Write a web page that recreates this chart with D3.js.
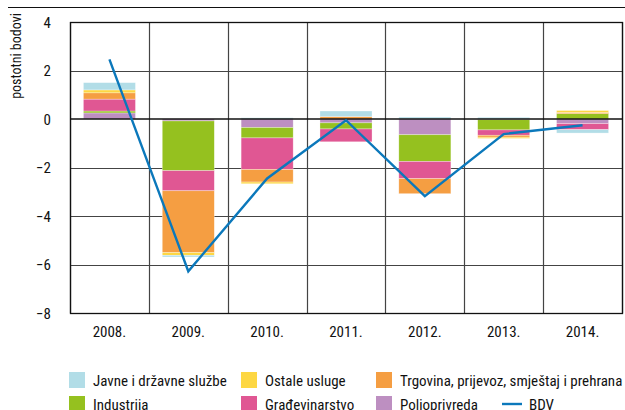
<!DOCTYPE html>
<html>
<head>
<meta charset="utf-8">
<script src="https://cdn.jsdelivr.net/npm/d3@7"></script>
<style>
  body { margin: 0; background: #fff; }
  text { font-family: "Liberation Sans Narrow", "Arial Narrow", "Roboto Condensed", sans-serif; fill: #111; }
</style>
</head>
<body>
<div id="canvas"></div>
<script>
// chart data
const years = ["2008.", "2009.", "2010.", "2011.", "2012.", "2013.", "2014."];
const javne = [0.30, -0.07, 0.05, 0.23, 0.08, 0.07, -0.14];
const ostale = [0.12, -0.11, -0.07, 0.00, 0.00, -0.05, 0.08];
const trgovina = [0.26, -2.55, -0.52, 0.10, -0.62, -0.08, 0.05];
const gradjevinarstvo = [0.49, -0.83, -1.30, -0.53, -0.71, -0.22, -0.25];
const industrija = [0.08, -2.05, -0.43, -0.25, -1.10, -0.42, 0.22];
const poljoprivreda = [0.25, -0.08, -0.35, -0.16, -0.65, -0.03, -0.19];
const bdv = [2.46, -6.28, -2.45, -0.05, -3.18, -0.62, -0.26];
const yTicks = [4, 2, 0, -2, -4, -6, -8];

// stacking order, bottom to top
const seriesKeys = ["poljoprivreda", "industrija", "gradjevinarstvo", "trgovina", "ostale", "javne"];
const seriesNames = {
  javne: "Javne i državne službe",
  ostale: "Ostale usluge",
  trgovina: "Trgovina, prijevoz, smještaj i prehrana",
  industrija: "Industrija",
  gradjevinarstvo: "Građevinarstvo",
  poljoprivreda: "Poljoprivreda"
};
const colors = {
  javne: "#b2dde7",
  ostale: "#fdd743",
  trgovina: "#f59e42",
  industrija: "#95c11f",
  gradjevinarstvo: "#e05793",
  poljoprivreda: "#bd8fc1"
};
const lineColor = "#0b78bb";

const table = years.map((yr, i) => ({
  year: yr,
  javne: javne[i], ostale: ostale[i], trgovina: trgovina[i],
  gradjevinarstvo: gradjevinarstvo[i], industrija: industrija[i],
  poljoprivreda: poljoprivreda[i], bdv: bdv[i]
}));

const width = 625, height = 410;
const plotLeft = 70, plotRight = 622, plotTop = 22, plotBottom = 313;

const svg = d3.select("#canvas").append("svg")
  .attr("width", width)
  .attr("height", height);

const x = d3.scaleBand()
  .domain(years)
  .range([plotLeft, plotRight])
  .paddingInner(0.34)
  .paddingOuter(0.17);

const y = d3.scaleLinear()
  .domain([-8, 4])
  .range([plotBottom, plotTop]);

const step = x.step();

// top rule
svg.append("line")
  .attr("x1", 8).attr("x2", width)
  .attr("y1", 7.5).attr("y2", 7.5)
  .attr("stroke", "#111").attr("stroke-width", 1);

// grid
const grid = svg.append("g");
grid.selectAll(".hgrid")
  .data(yTicks.filter(d => d !== 0))
  .enter().append("line")
  .attr("x1", plotLeft).attr("x2", plotRight)
  .attr("y1", d => Math.round(y(d)) + 0.5)
  .attr("y2", d => Math.round(y(d)) + 0.5)
  .attr("stroke", "#444").attr("stroke-width", 1.2);

grid.selectAll(".vgrid")
  .data(d3.range(years.length + 1))
  .enter().append("line")
  .attr("x1", i => Math.round(plotLeft + i * step) + 0.5)
  .attr("x2", i => Math.round(plotLeft + i * step) + 0.5)
  .attr("y1", plotTop).attr("y2", plotBottom)
  .attr("stroke", "#444").attr("stroke-width", 1.2);

// stacked bars
const stack = d3.stack()
  .keys(seriesKeys)
  .offset(d3.stackOffsetDiverging);

const layers = stack(table);

svg.append("g").selectAll("g")
  .data(layers)
  .enter().append("g")
  .attr("fill", d => colors[d.key])
  .selectAll("rect")
  .data(d => d)
  .enter().append("rect")
  .attr("x", d => x(d.data.year))
  .attr("width", x.bandwidth())
  .attr("y", d => y(Math.max(d[0], d[1])))
  .attr("height", d => Math.abs(y(d[0]) - y(d[1])))
  .attr("stroke", "#fff")
  .attr("stroke-opacity", 0.5)
  .attr("stroke-width", 0.6);

// frame
svg.append("rect")
  .attr("x", plotLeft + 0.5).attr("y", plotTop + 0.5)
  .attr("width", plotRight - plotLeft).attr("height", plotBottom - plotTop)
  .attr("fill", "none").attr("stroke", "#111").attr("stroke-width", 1.3);

// zero line
svg.append("line")
  .attr("x1", plotLeft).attr("x2", plotRight)
  .attr("y1", y(0)).attr("y2", y(0))
  .attr("stroke", "#111").attr("stroke-width", 1.6);

// BDV line
const line = d3.line()
  .x(d => x(d.year) + x.bandwidth() / 2)
  .y(d => y(d.bdv));

svg.append("path")
  .datum(table)
  .attr("d", line)
  .attr("fill", "none")
  .attr("stroke", lineColor)
  .attr("stroke-width", 2.4);

// y axis labels
svg.append("g").selectAll("text")
  .data(yTicks)
  .enter().append("text")
  .attr("x", 51)
  .attr("y", d => y(d) + 5.5)
  .attr("text-anchor", "end")
  .attr("font-size", 15)
  .text(d => d < 0 ? "\u2212" + Math.abs(d) : d);

svg.append("text")
  .attr("transform", "translate(21,56) rotate(-90)")
  .attr("text-anchor", "middle")
  .attr("font-size", 14)
  .text("postotni bodovi");

// x axis labels
svg.append("g").selectAll("text")
  .data(years)
  .enter().append("text")
  .attr("x", d => x(d) + x.bandwidth() / 2)
  .attr("y", 337)
  .attr("text-anchor", "middle")
  .attr("font-size", 15)
  .text(d => d);

// legend
const legendItems = [
  { key: "javne", col: 0, row: 0 },
  { key: "ostale", col: 1, row: 0 },
  { key: "trgovina", col: 2, row: 0 },
  { key: "industrija", col: 0, row: 1 },
  { key: "gradjevinarstvo", col: 1, row: 1 },
  { key: "poljoprivreda", col: 2, row: 1 }
];
const colX = [69, 241, 376];
const rowY = [372, 396];

const legend = svg.append("g");
const item = legend.selectAll("g")
  .data(legendItems)
  .enter().append("g")
  .attr("transform", d => `translate(${colX[d.col]},${rowY[d.row]})`);

item.append("rect")
  .attr("width", 16).attr("height", 16)
  .attr("fill", d => colors[d.key]);

item.append("text")
  .attr("x", 24).attr("y", 13.5)
  .attr("font-size", 15)
  .text(d => seriesNames[d.key]);

const bdvLegend = legend.append("g")
  .attr("transform", "translate(502,396)");
bdvLegend.append("line")
  .attr("x1", 0).attr("x2", 20)
  .attr("y1", 8).attr("y2", 8)
  .attr("stroke", lineColor).attr("stroke-width", 2.4);
bdvLegend.append("text")
  .attr("x", 27).attr("y", 13.5)
  .attr("font-size", 15)
  .text("BDV");
</script>
</body>
</html>
